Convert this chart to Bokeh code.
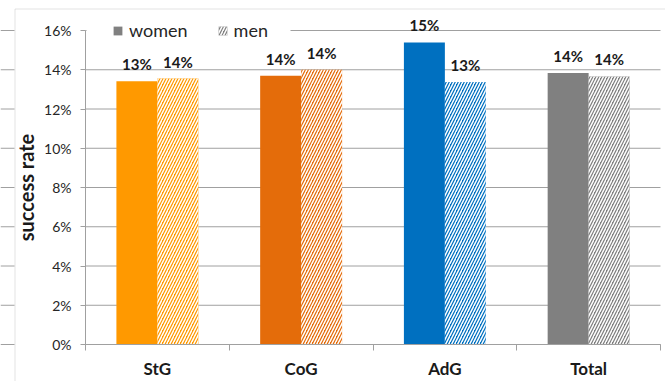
from bokeh.plotting import figure
from bokeh.models import (Range1d, FixedTicker, NumeralTickFormatter, Legend,
                          LegendItem, BoxAnnotation, ColumnDataSource)
from bokeh.core.properties import value
from bokeh.embed import file_html
from bokeh.resources import INLINE

# success rate by programme and gender
categories = ["StG", "CoG", "AdG", "Total"]
women = [0.1342, 0.1370, 0.1539, 0.1383]
men = [0.1355, 0.1400, 0.1337, 0.1366]
y_ticks = [0.0, 0.02, 0.04, 0.06, 0.08, 0.10, 0.12, 0.14, 0.16]

palette = ["#FF9900", "#E46C0A", "#0070C0", "#808080"]
GRID = "#A0A0A0"
FONT = "Lato"
BAR_W = 0.285
HATCH = dict(hatch_pattern="/", hatch_color="white", hatch_scale=6,
             hatch_weight=1.5)

# canvas and plot-area geometry (pixels)
W, H = 665, 381
PL, PR, PT, PB = 85, 660, 30, 344
n = len(categories)
ymax = y_ticks[-1]
sx = n / (PR - PL)
sy = ymax / (PB - PT)
x_start, x_end = -PL * sx, n + (W - PR) * sx
y_start, y_end = -(H - PB) * sy, ymax + PT * sy

p = figure(width=W, height=H, output_backend="svg", toolbar_location=None,
           x_range=Range1d(x_start, x_end), y_range=Range1d(y_start, y_end),
           min_border=0)
p.min_border_left = p.min_border_right = 0
p.min_border_top = p.min_border_bottom = 0
p.outline_line_color = None
p.background_fill_color = "white"
p.border_fill_color = "white"
p.xgrid.visible = False
p.ygrid.visible = False

# gridlines across the plot area, plus the stubs of the neighbouring area
p.segment(x0=0, x1=n, y0=y_ticks, y1=y_ticks, line_color=GRID,
          line_width=1, level="underlay")
p.segment(x0=x_start, x1=x_start + 14 * sx, y0=y_ticks, y1=y_ticks,
          line_color=GRID, line_width=1, level="underlay")

# chart-area frame (top and left edges)
p.add_layout(BoxAnnotation(left=14.5, right=W + 20, top=8.5, bottom=H + 20,
                           left_units="canvas", right_units="canvas",
                           top_units="canvas", bottom_units="canvas",
                           fill_color=None, line_color=GRID, line_width=1))

centers = [i + 0.5 for i in range(n)]
src = ColumnDataSource(dict(
    xw=[c - BAR_W / 2 for c in centers],
    xm=[c + BAR_W / 2 for c in centers],
    women=women, men=men, color=palette,
    lw=[f"{round(v * 100)}%" for v in women],
    lm=[f"{round(v * 100)}%" for v in men],
))

p.vbar(x="xw", top="women", width=BAR_W, source=src, fill_color="color",
       line_color=None)
p.vbar(x="xm", top="men", width=BAR_W, source=src, fill_color="color",
       line_color=None, **HATCH)

for xcol, ycol, tcol in (("xw", "women", "lw"), ("xm", "men", "lm")):
    p.text(x=xcol, y=ycol, text=tcol, source=src, text_align="center",
           text_baseline="alphabetic", y_offset=-17,
           text_font=value(FONT), text_font_style="bold",
           text_font_size="15px", text_color="#1a1a1a")

# axes
p.yaxis.fixed_location = 0
p.yaxis.bounds = (0, ymax)
p.yaxis.ticker = FixedTicker(ticks=y_ticks)
p.yaxis.formatter = NumeralTickFormatter(format="0%")
p.yaxis.major_tick_in = 0
p.yaxis.major_tick_out = 5
p.yaxis.minor_tick_line_color = None
p.yaxis.axis_line_color = GRID
p.yaxis.major_tick_line_color = GRID
p.yaxis.major_label_text_font = FONT
p.yaxis.major_label_text_font_size = "14px"
p.yaxis.major_label_text_color = "#262626"
p.yaxis.major_label_standoff = 9
p.yaxis.axis_label = "success rate"
p.yaxis.axis_label_text_font = FONT
p.yaxis.axis_label_text_font_style = "bold"
p.yaxis.axis_label_text_font_size = "20px"
p.yaxis.axis_label_text_color = "#1a1a1a"
p.yaxis.axis_label_standoff = 3

p.xaxis.fixed_location = 0
p.xaxis.bounds = (0, n)
p.xaxis.ticker = FixedTicker(ticks=centers, minor_ticks=list(range(n + 1)))
p.xaxis.major_label_overrides = {c: name for c, name in zip(centers, categories)}
p.xaxis.major_tick_line_color = None
p.xaxis.minor_tick_in = 0
p.xaxis.minor_tick_out = 6
p.xaxis.minor_tick_line_color = GRID
p.xaxis.axis_line_color = GRID
p.xaxis.major_label_text_font = FONT
p.xaxis.major_label_text_font_style = "bold"
p.xaxis.major_label_text_font_size = "17px"
p.xaxis.major_label_text_color = "#1a1a1a"
p.xaxis.major_label_standoff = 7

# white backing behind the legend row
p.add_layout(BoxAnnotation(left=86, right=290, top=24, bottom=36,
                           left_units="canvas", right_units="canvas",
                           top_units="canvas", bottom_units="canvas",
                           fill_color="white", fill_alpha=1, line_color=None))

# legend with neutral swatches (zero-height proxies)
lw = p.vbar(x=[centers[-1]], top=[0], width=BAR_W, fill_color="#808080",
            line_color=None)
lm = p.vbar(x=[centers[-1]], top=[0], width=BAR_W, fill_color="#808080",
            line_color=None, **HATCH)
legend = Legend(items=[LegendItem(label="women", renderers=[lw]),
                       LegendItem(label="men", renderers=[lm])],
                orientation="horizontal", location=(112, H - 41),
                glyph_width=11, glyph_height=11, label_standoff=6,
                spacing=29, padding=4, margin=0, border_line_color=None,
                background_fill_color="white", background_fill_alpha=1,
                label_text_font=FONT, label_text_font_size="18px",
                label_text_color="#262626")
p.add_layout(legend)

open("out.html", "w").write(file_html(p, INLINE))
